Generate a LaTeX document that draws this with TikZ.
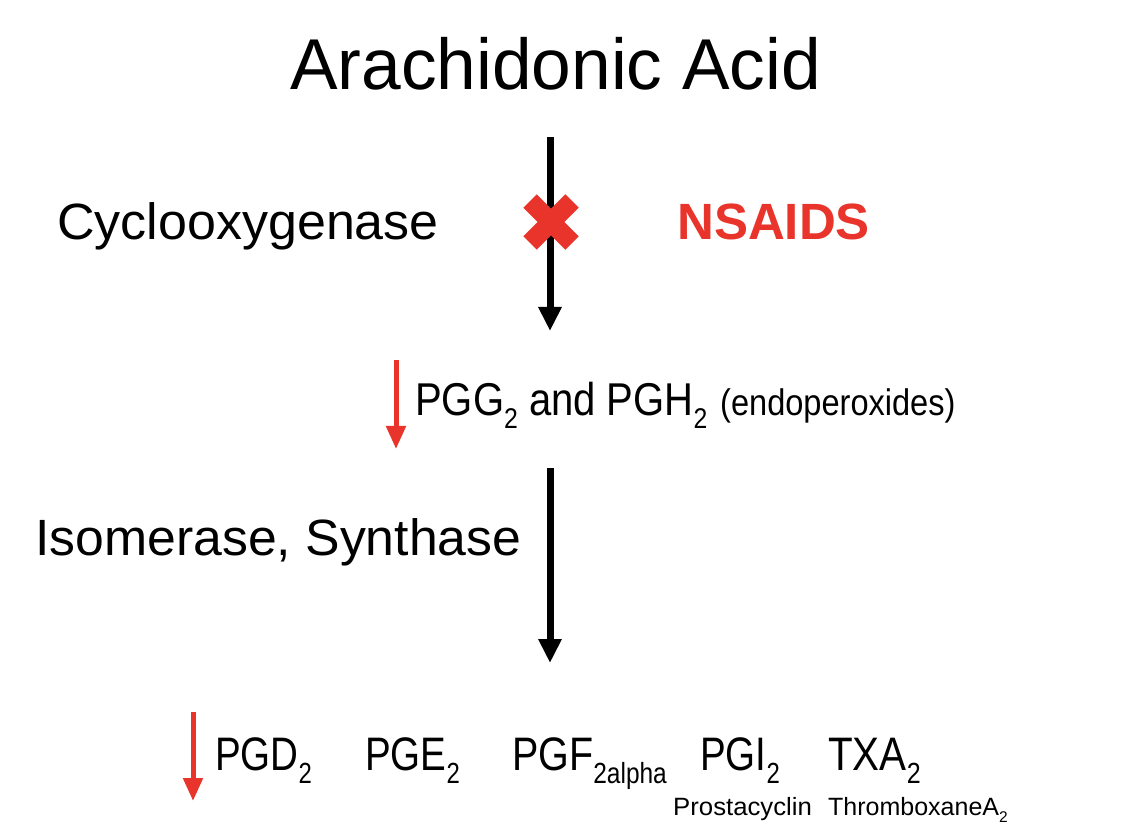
\documentclass[tikz,border=0pt]{standalone}
\usepackage{fontspec}
\setmainfont{Liberation Sans}
\usepackage{graphicx}
\usetikzlibrary{arrows.meta}
\definecolor{nred}{RGB}{232,52,42}
\newcommand{\lsub}[1]{\raisebox{-0.28em}{\scalebox{0.62}{#1}}}
\newcommand{\fs}[1]{\fontsize{#1pt}{#1pt}\selectfont}
\tikzset{
  lbl/.style={inner sep=0pt, anchor=base west},
  blackarrow/.style={line width=7pt,-{Triangle[length=24pt,width=22pt]}},
  redarrow/.style={nred,line width=5pt,-{Triangle[length=23pt,width=19pt]}},
  xbar/.style={nred,line width=19pt,line cap=butt}
}
\begin{document}
\begin{tikzpicture}[x=1pt,y=-1pt]
\useasboundingbox (0,0) rectangle (1128,834);
\fill[white] (0,0) rectangle (1128,834);
% texts
\node[lbl] (aa) at (290,90) {\fs{72}\scalebox{0.99}[1]{Arachidonic Acid}};
\node[lbl] (cox) at (57,240) {\fs{51}\scalebox{1.02}[1]{Cyclooxygenase}};
\node[lbl,text=nred] (nsaid) at (677,240) {\fs{51}\bfseries NSAIDS};
\node[lbl] (pgg) at (415,416) {\fs{46}\scalebox{0.87}[1]{PGG\lsub{2} and PGH\lsub{2}}};
\node[lbl] (endo) at (720,416) {\fs{37}\scalebox{0.88}[1]{(endoperoxides)}};
\node[lbl] (iso) at (35,555) {\fs{51}\scalebox{1.015}[1]{Isomerase, Synthase}};
\node[lbl] (pgd) at (215,770) {\fs{47}\scalebox{0.82}[1]{PGD\lsub{2}}};
\node[lbl] (pge) at (365,770) {\fs{47}\scalebox{0.82}[1]{PGE\lsub{2}}};
\node[lbl] (pgf) at (512,770) {\fs{47}\scalebox{0.84}[1]{PGF\lsub{2alpha}}};
\node[lbl] (pgi) at (700,770) {\fs{47}\scalebox{0.82}[1]{PGI\lsub{2}}};
\node[lbl] (txa) at (828,770) {\fs{47}\scalebox{0.86}[1]{TXA\lsub{2}}};
\node[lbl] (pros) at (673,815) {\fs{25}\scalebox{1.03}[1]{Prostacyclin}};
\node[lbl] (thro) at (828,815) {\fs{25}\scalebox{1.0}[1]{ThromboxaneA\lsub{2}}};
% arrow end points
\coordinate (a1s) at (550,137);
\coordinate (a1e) at (550,331);
\coordinate (a2s) at (550,468);
\coordinate (a2e) at (550,663);
\coordinate (r1s) at (396,360);
\coordinate (r1e) at (396,449);
\coordinate (r2s) at (193,712);
\coordinate (r2e) at (193,801);
\coordinate (xc) at (551,222);
\draw[blackarrow] (a1s) -- (a1e);
\draw[blackarrow] (a2s) -- (a2e);
\draw[redarrow] (r1s) -- (r1e);
\draw[redarrow] (r2s) -- (r2e);
% red cross
\draw[xbar] ([shift={(-21,-21)}]xc) -- ([shift={(21,21)}]xc);
\draw[xbar] ([shift={(21,-21)}]xc) -- ([shift={(-21,21)}]xc);
\end{tikzpicture}
\end{document}
